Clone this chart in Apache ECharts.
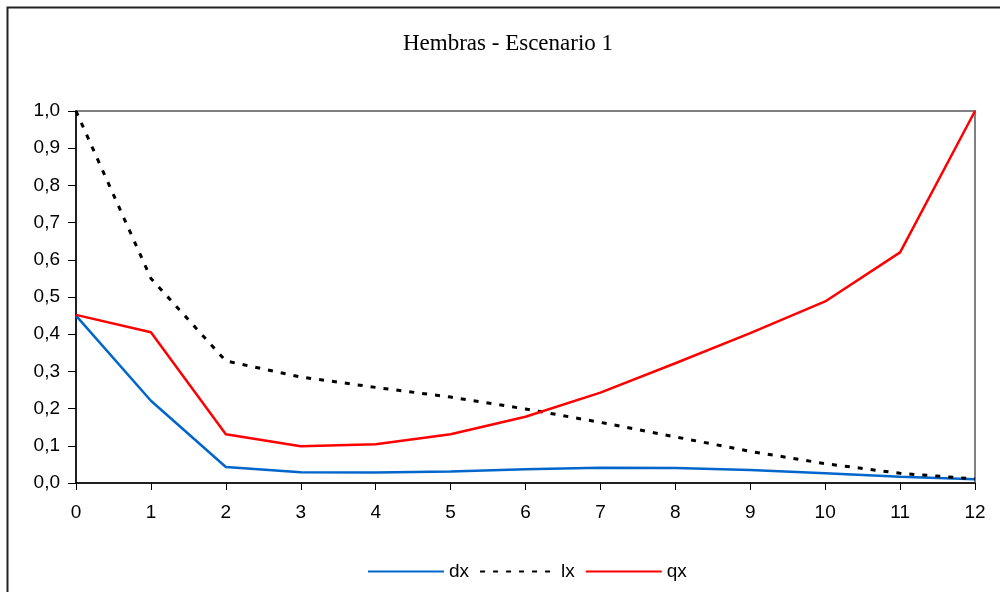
<!DOCTYPE html>
<html>
<head>
<meta charset="utf-8">
<script src="https://cdn.jsdelivr.net/npm/echarts@6/dist/echarts.min.js"></script>
<style>
  html, body { margin: 0; padding: 0; background: #fff; }
  #chart { width: 1000px; height: 592px; }
</style>
</head>
<body>
<div id="chart"></div>
<script>
// Edades (clases) del eje horizontal
const edades = ['0', '1', '2', '3', '4', '5', '6', '7', '8', '9', '10', '11', '12'];

// Series de la tabla de vida
const dx = [0.450, 0.221, 0.043, 0.029, 0.028, 0.031, 0.037, 0.041, 0.040, 0.035, 0.026, 0.017, 0.010];
const lx = [1.000, 0.550, 0.328, 0.285, 0.257, 0.231, 0.199, 0.163, 0.124, 0.085, 0.052, 0.026, 0.011];
const qx = [0.452, 0.405, 0.131, 0.099, 0.104, 0.131, 0.178, 0.243, 0.322, 0.403, 0.488, 0.620, 1.000];

const titulo = 'Hembras - Escenario 1';

const chart = echarts.init(document.getElementById('chart'), null, { renderer: 'canvas' });

const labelFont = { fontFamily: 'Liberation Sans, Arial, sans-serif', fontSize: 19, color: '#000' };

chart.setOption({
  animation: false,
  backgroundColor: '#fff',
  graphic: [{
    type: 'rect',
    left: 5, top: 5,
    shape: { width: 1010, height: 610 },
    style: { fill: 'none', stroke: '#222', lineWidth: 2 },
    silent: true
  }],
  title: {
    text: titulo,
    left: 503,
    textAlign: 'center',
    top: 27,
    textStyle: { fontFamily: 'Liberation Serif, Times New Roman, serif', fontSize: 23, fontWeight: 'normal', color: '#000' }
  },
  grid: {
    left: 76, right: 25, top: 111, bottom: 109,
    show: true, borderColor: '#808080', borderWidth: 2, backgroundColor: 'transparent'
  },
  legend: {
    left: 362, top: 557,
    itemWidth: 76, itemHeight: 20, itemGap: 10,
    itemStyle: { opacity: 0 },
    textStyle: labelFont,
    data: ['dx', 'lx', 'qx']
  },
  xAxis: {
    type: 'category',
    data: edades,
    boundaryGap: false,
    axisLine: { lineStyle: { color: '#000', width: 1.5 } },
    axisTick: { show: true, length: 7, inside: false, lineStyle: { color: '#000' } },
    axisLabel: Object.assign({}, labelFont, { margin: 20 }),
    splitLine: { show: false }
  },
  yAxis: {
    type: 'value',
    min: 0, max: 1, interval: 0.1,
    axisLine: { show: true, lineStyle: { color: '#000', width: 1.5 } },
    axisTick: { show: true, length: 8, inside: false, lineStyle: { color: '#000' } },
    axisLabel: Object.assign({}, labelFont, {
      margin: 16,
      formatter: v => v.toFixed(1).replace('.', ',')
    }),
    splitLine: { show: false }
  },
  series: [
    {
      name: 'dx', type: 'line', data: dx, symbol: 'none',
      lineStyle: { color: '#0066CC', width: 2.5 }, itemStyle: { color: '#0066CC' }
    },
    {
      name: 'lx', type: 'line', data: lx, symbol: 'none',
      lineStyle: { color: '#000', width: 3, type: [5, 8] }, itemStyle: { color: '#000' }
    },
    {
      name: 'qx', type: 'line', data: qx, symbol: 'none',
      lineStyle: { color: '#FF0000', width: 2.5 }, itemStyle: { color: '#FF0000' }
    }
  ]
});
</script>
</body>
</html>
